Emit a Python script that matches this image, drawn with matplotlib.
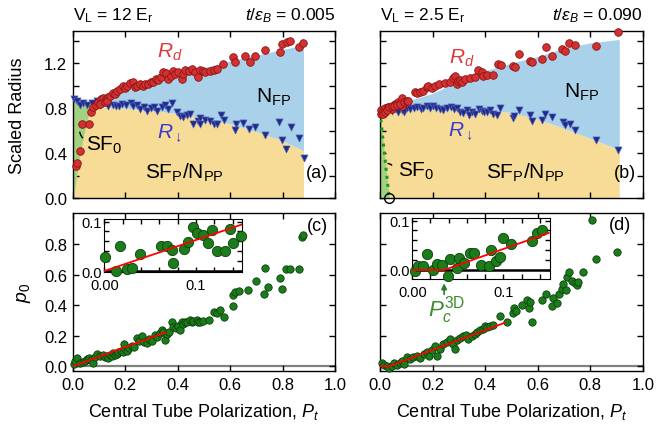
import numpy as np
import matplotlib
matplotlib.use("Agg")
import matplotlib.pyplot as plt

plt.rcParams['font.family'] = ['Liberation Sans', 'DejaVu Sans']
plt.rcParams['mathtext.fontset'] = 'custom'
plt.rcParams['mathtext.rm'] = 'Liberation Sans'
plt.rcParams['mathtext.it'] = 'Liberation Sans:italic'
plt.rcParams['mathtext.bf'] = 'Liberation Sans:bold'

# ---------------- data: panel (a) ----------------
a_rd_P = [0.013, 0.018, 0.027, 0.035, 0.061, 0.069, 0.079, 0.089, 0.098, 0.107, 0.117, 0.127, 0.136,
          0.104, 0.123, 0.132, 0.142, 0.153, 0.161, 0.170, 0.181, 0.191, 0.200, 0.208, 0.219, 0.229,
          0.238, 0.247, 0.257, 0.267, 0.276, 0.289, 0.298, 0.308, 0.318, 0.327, 0.336, 0.346, 0.355,
          0.365, 0.374, 0.382, 0.391, 0.403, 0.416, 0.420, 0.429, 0.445, 0.454, 0.467, 0.479, 0.486,
          0.496, 0.505, 0.524, 0.537, 0.550, 0.575, 0.613, 0.619, 0.658, 0.677, 0.696, 0.734, 0.791,
          0.798, 0.817, 0.828, 0.861, 0.880]
a_rd_R = [0.288, 0.308, 0.415, 0.658, 0.658, 0.762, 0.806, 0.827, 0.856, 0.880, 0.886, 0.880, 0.895,
          0.836, 0.850, 0.865, 0.909, 0.933, 0.924, 0.954, 0.969, 0.993, 0.975, 0.998, 1.022, 1.034,
          0.984, 0.993, 1.013, 0.998, 1.013, 1.013, 1.028, 1.034, 1.058, 1.052, 1.073, 1.117, 1.111,
          1.058, 1.082, 1.132, 1.102, 1.123, 1.058, 1.102, 1.141, 1.132, 1.147, 1.117, 1.073, 1.141,
          1.132, 1.123, 1.132, 1.141, 1.147, 1.191, 1.250, 1.206, 1.265, 1.206, 1.259, 1.318, 1.301,
          1.369, 1.384, 1.393, 1.340, 1.375]
a_rdn_P = [0.005, 0.015, 0.028, 0.040, 0.056, 0.072, 0.092, 0.104, 0.119, 0.136, 0.153, 0.165, 0.178,
           0.187, 0.203, 0.221, 0.231, 0.244, 0.257, 0.270, 0.282, 0.298, 0.310, 0.321, 0.340, 0.352,
           0.365, 0.378, 0.397, 0.410, 0.420, 0.435, 0.448, 0.460, 0.479, 0.487, 0.487, 0.504, 0.523,
           0.539, 0.552, 0.565, 0.577, 0.621, 0.618, 0.650, 0.672, 0.697, 0.733, 0.787, 0.799, 0.815,
           0.832, 0.863, 0.883]
a_rdn_R = [0.880, 0.865, 0.827, 0.844, 0.827, 0.844, 0.865, 0.827, 0.865, 0.815, 0.827, 0.821, 0.815,
           0.836, 0.827, 0.844, 0.815, 0.827, 0.791, 0.806, 0.776, 0.797, 0.806, 0.776, 0.806, 0.827,
           0.791, 0.844, 0.762, 0.732, 0.717, 0.738, 0.747, 0.658, 0.687, 0.714, 0.660, 0.696, 0.684,
           0.660, 0.660, 0.735, 0.690, 0.655, 0.607, 0.667, 0.616, 0.631, 0.557, 0.676, 0.513, 0.438,
           0.631, 0.536, 0.356]
# region boundaries (a)
a_low_P = [0.0, 0.1, 0.2, 0.3, 0.4, 0.5, 0.6, 0.7, 0.8, 0.88]
a_low_R = [0.81, 0.81, 0.80, 0.78, 0.75, 0.71, 0.66, 0.59, 0.51, 0.42]
a_up_P = [0.07, 0.1, 0.2, 0.3, 0.4, 0.5, 0.6, 0.7, 0.8, 0.88]
a_up_R = [0.80, 0.85, 0.96, 1.04, 1.10, 1.16, 1.22, 1.27, 1.32, 1.36]
a_sf0_R = [0.0, 0.08, 0.38, 0.67, 0.82, 0.87]
a_sf0_P = [0.005, 0.008, 0.027, 0.052, 0.071, 0.0]

# ---------------- data: panel (b) ----------------
b_rd_P = [0.003, 0.005, 0.012, 0.020, 0.030, 0.045, 0.058, 0.070, 0.085,
          0.010, 0.019, 0.028, 0.036, 0.044, 0.053, 0.063, 0.076, 0.082, 0.091, 0.101, 0.108, 0.133,
          0.142, 0.152, 0.165, 0.178, 0.184, 0.196, 0.209, 0.225, 0.247, 0.266, 0.279, 0.285, 0.292,
          0.298, 0.304, 0.311, 0.323, 0.342, 0.361, 0.374, 0.387, 0.393, 0.406, 0.428, 0.450, 0.459,
          0.507, 0.513, 0.530, 0.570, 0.577, 0.615, 0.631, 0.653, 0.691, 0.703, 0.720, 0.741, 0.821,
          0.906]
b_rd_R = [0.75, 0.78, 0.77, 0.80, 0.81, 0.79, 0.84, 0.85, 0.82,
          0.747, 0.762, 0.785, 0.806, 0.821, 0.815, 0.827, 0.836, 0.886, 0.850, 0.865, 0.865, 0.939,
          0.933, 0.945, 0.954, 0.984, 0.993, 0.975, 0.993, 1.013, 1.022, 1.028, 1.064, 1.082, 1.013,
          1.043, 1.052, 1.028, 1.058, 1.064, 1.073, 1.141, 1.117, 1.087, 1.093, 1.093, 1.191, 1.182,
          1.176, 1.161, 1.280, 1.221, 1.206, 1.236, 1.340, 1.265, 1.324, 1.309, 1.378, 1.363, 1.354,
          1.473]
b_rdn_P = [0.013, 0.028, 0.044, 0.061, 0.070, 0.082, 0.091, 0.101, 0.114, 0.129, 0.142, 0.155, 0.165,
           0.180, 0.190, 0.203, 0.213, 0.228, 0.238, 0.253, 0.269, 0.281, 0.292, 0.304, 0.317, 0.330,
           0.340, 0.349, 0.361, 0.378, 0.387, 0.395, 0.406, 0.418, 0.431, 0.444, 0.456, 0.504, 0.511,
           0.527, 0.570, 0.578, 0.616, 0.629, 0.654, 0.697, 0.705, 0.724, 0.743, 0.821, 0.906]
b_rdn_R = [0.785, 0.767, 0.776, 0.791, 0.762, 0.785, 0.767, 0.797, 0.791, 0.797, 0.806, 0.791, 0.803,
           0.815, 0.797, 0.821, 0.803, 0.791, 0.785, 0.797, 0.806, 0.791, 0.797, 0.762, 0.756, 0.785,
           0.738, 0.767, 0.747, 0.791, 0.776, 0.767, 0.762, 0.785, 0.747, 0.738, 0.797, 0.714, 0.726,
           0.779, 0.735, 0.684, 0.696, 0.744, 0.720, 0.676, 0.646, 0.655, 0.607, 0.513, 0.424]
b_low_P = [0.0, 0.1, 0.2, 0.3, 0.4, 0.5, 0.6, 0.7, 0.8, 0.91]
b_low_R = [0.75, 0.78, 0.79, 0.79, 0.78, 0.76, 0.70, 0.62, 0.53, 0.43]
b_up_P = [0.0, 0.1, 0.2, 0.3, 0.4, 0.5, 0.6, 0.7, 0.8, 0.91]
b_up_R = [0.75, 0.86, 0.93, 1.04, 1.13, 1.20, 1.26, 1.33, 1.38, 1.41]
b_sf0_P = [0.0, 0.035]
b_sf0_R = [0.77, 0.0]
b_pc3d = 0.035

# ---------------- data: panel (c) ----------------
c_P = [0.005, 0.009, 0.018, 0.028, 0.038, 0.047, 0.056, 0.063, 0.069, 0.079, 0.085, 0.094, 0.104,
       0.115, 0.123, 0.130, 0.136, 0.142, 0.149, 0.155, 0.161, 0.168, 0.174, 0.183, 0.191, 0.200,
       0.196, 0.206, 0.216, 0.225, 0.234, 0.244, 0.254, 0.263, 0.272, 0.282, 0.292, 0.302, 0.314,
       0.323, 0.331, 0.340, 0.346, 0.352, 0.359, 0.369, 0.378, 0.384, 0.394, 0.403, 0.410, 0.416,
       0.422, 0.429, 0.437, 0.448, 0.454, 0.460, 0.473, 0.479, 0.486, 0.496, 0.521, 0.537, 0.550,
       0.562, 0.577, 0.611, 0.613, 0.619, 0.636, 0.670, 0.700, 0.728, 0.732, 0.745, 0.790, 0.798,
       0.815, 0.830, 0.861, 0.874, 0.880]
c_p0 = [0.015, 0.037, 0.052, 0.022, 0.030, 0.037, 0.048, 0.052, 0.043, 0.022, 0.059, 0.080, 0.069,
        0.074, 0.059, 0.069, 0.052, 0.074, 0.065, 0.087, 0.074, 0.080, 0.092, 0.102, 0.092, 0.113,
        0.146, 0.102, 0.118, 0.135, 0.124, 0.183, 0.167, 0.196, 0.161, 0.152, 0.179, 0.167, 0.205,
        0.190, 0.218, 0.239, 0.226, 0.174, 0.211, 0.226, 0.292, 0.255, 0.248, 0.266, 0.239, 0.288,
        0.277, 0.288, 0.292, 0.305, 0.292, 0.298, 0.305, 0.292, 0.288, 0.298, 0.305, 0.353, 0.349,
        0.370, 0.320, 0.392, 0.466, 0.488, 0.494, 0.500, 0.560, 0.473, 0.641, 0.517, 0.576, 0.506,
        0.637, 0.637, 0.637, 0.844, 0.861]
c_fit_P = [0.0, 0.355]
c_fit_p0 = [0.0, 0.222]
c_in_P = [0.0008, 0.0124, 0.0171, 0.0251, 0.0305, 0.039, 0.0615, 0.068, 0.0735, 0.0753, 0.0869,
          0.0916, 0.0964, 0.1014, 0.1073, 0.1128, 0.1178, 0.1226, 0.1316, 0.1371, 0.1407, 0.1487]
c_in_p0 = [0.028, 0.0, 0.0505, 0.0034, 0.0054, 0.035, 0.0505, 0.0505, 0.042, 0.0155, 0.045,
           0.059, 0.089, 0.076, 0.0727, 0.056, 0.083, 0.040, 0.040, 0.084, 0.056, 0.0707]
c_in_fit_P = [0.0, 0.15]
c_in_fit_p0 = [0.0, 0.094]

# ---------------- data: panel (d) ----------------
d_P = [0.006, 0.015, 0.025, 0.035, 0.044, 0.053, 0.063, 0.076, 0.082, 0.091, 0.101, 0.114, 0.127,
       0.142, 0.152, 0.167, 0.178, 0.188, 0.196, 0.209, 0.216, 0.228, 0.241, 0.254, 0.266, 0.279,
       0.285, 0.294, 0.304, 0.317, 0.327, 0.336, 0.349, 0.361, 0.370, 0.380, 0.390, 0.399, 0.408,
       0.418, 0.431, 0.456, 0.482, 0.504, 0.510, 0.517, 0.539, 0.558, 0.568, 0.570, 0.577, 0.615,
       0.631, 0.653, 0.659, 0.672, 0.682, 0.691, 0.697, 0.707, 0.712, 0.720, 0.729, 0.741, 0.748,
       0.754, 0.771, 0.805, 0.821, 0.902]
d_p0 = [0.022, 0.009, 0.0, -0.013, 0.004, 0.022, 0.009, 0.022, 0.037, 0.015, 0.059, 0.048, 0.059,
        0.069, 0.052, 0.080, 0.092, 0.069, 0.109, 0.135, 0.069, 0.113, 0.146, 0.161, 0.179, 0.146,
        0.113, 0.174, 0.183, 0.196, 0.205, 0.179, 0.200, 0.211, 0.222, 0.239, 0.244, 0.262, 0.255,
        0.266, 0.270, 0.327, 0.292, 0.349, 0.379, 0.364, 0.401, 0.436, 0.379, 0.423, 0.288, 0.436,
        0.473, 0.392, 0.445, 0.414, 0.473, 0.506, 0.538, 0.501, 0.582, 0.619, 0.560, 0.545, 0.532,
        0.553, 0.619, 0.959, 0.702, 0.750]
d_fit_P = [0.0, 0.035, 0.475]
d_fit_p0 = [0.0, 0.0, 0.285]
d_in_P = [0.003, 0.006, 0.012, 0.016, 0.023, 0.027, 0.033, 0.039, 0.041, 0.049, 0.051, 0.057, 0.063,
          0.068, 0.076, 0.084, 0.087, 0.092, 0.096, 0.100, 0.108, 0.132, 0.137, 0.142]
d_in_p0 = [-0.002, 0.008, 0.008, 0.032, -0.001, 0.012, 0.010, -0.012, 0.023, 0.003, 0.024, 0.014,
           0.035, 0.035, 0.010, 0.008, 0.040, 0.018, 0.027, 0.064, 0.052, 0.058, 0.074, 0.081]
d_in_fit_P = [0.0, 0.035, 0.15]
d_in_fit_p0 = [0.0, 0.0, 0.075]

# ---------------- styling ----------------
RED_F, RED_E = '#d33131', '#8a1414'
BLUE_F, BLUE_E = '#1d2b8c', '#5564b5'
GRN_F, GRN_E = '#1c7c1c', '#0a400a'
C_BLUE, C_YEL, C_GRN = '#a9d2ea', '#f7dc98', '#a2d27f'

fig = plt.figure(figsize=(6.59, 4.31), dpi=100)
ax_a = fig.add_axes([0.1103, 0.5383, 0.398, 0.388])
ax_b = fig.add_axes([0.5766, 0.5383, 0.399, 0.388])
ax_c = fig.add_axes([0.1103, 0.1362, 0.398, 0.3673])
ax_d = fig.add_axes([0.5766, 0.1362, 0.399, 0.3673])


def style_main(ax):
    ax.tick_params(direction='in', top=True, right=True, length=4, width=1, labelsize=12, pad=4)
    for s in ax.spines.values():
        s.set_linewidth(1.0)
    ax.set_xlim(0, 1.0)
    ax.set_xticks([0, 0.2, 0.4, 0.6, 0.8, 1.0])


def top_panel(ax, rd_P, rd_R, rdn_P, rdn_R, low_P, low_R, up_P, up_R):
    style_main(ax)
    ax.set_ylim(0, 1.487)
    ax.set_yticks([0, 0.4, 0.8, 1.2])
    ax.set_yticks([0.2, 0.6, 1.0, 1.4], minor=True)
    ax.tick_params(which='minor', direction='in', right=True, length=4, width=1)
    ax.fill_between(low_P, 0, low_R, color=C_YEL, lw=0, zorder=1)
    lo_interp = np.interp(up_P, low_P, low_R)
    ax.fill_between(up_P, lo_interp, up_R, color=C_BLUE, lw=0, zorder=1)
    ax.scatter(rdn_P, rdn_R, marker='v', s=26, facecolor=BLUE_F, edgecolor=BLUE_E,
               linewidths=0.5, zorder=4, clip_on=False)
    ax.scatter(rd_P, rd_R, marker='o', s=30, facecolor=RED_F, edgecolor=RED_E,
               linewidths=0.6, zorder=5, clip_on=False)
    ax.set_xticklabels([])


# ---- (a)
top_panel(ax_a, a_rd_P, a_rd_R, a_rdn_P, a_rdn_R, a_low_P, a_low_R, a_up_P, a_up_R)
ax_a.fill_betweenx(a_sf0_R, 0, a_sf0_P, color=C_GRN, lw=0, zorder=2)
ax_a.set_ylabel('Scaled Radius', fontsize=13)
ax_a.yaxis.set_label_coords(-0.178, 0.5)
ax_a.text(0.70, 0.90, r'N$_{\mathrm{FP}}$', fontsize=15, va='center', zorder=6)
ax_a.text(0.276, 0.23, r'SF$_{\mathrm{P}}$/N$_{\mathrm{PP}}$', fontsize=15, va='center', zorder=6)
ax_a.text(0.05, 0.48, r'SF$_{0}$', fontsize=15, va='center', zorder=6)
ax_a.text(0.32, 1.30, r'$R_d$', fontsize=15, color='#e03a3a', va='center', zorder=6)
ax_a.text(0.32, 0.58, r'$R_{\downarrow}$', fontsize=15, color='#3a3ad0', va='center', zorder=6)
ax_a.annotate('', xy=(0.046, 0.52), xytext=(0.027, 0.61),
              arrowprops=dict(arrowstyle='-', lw=1, color='black', connectionstyle='arc3,rad=0.3'),
              zorder=6)
ax_a.text(0.975, 0.155, '(a)', transform=ax_a.transAxes, fontsize=13, ha='right', va='center')
ax_a.text(0.0, 1.07, r'V$_{\mathrm{L}}$ = 12 E$_{\mathrm{r}}$', transform=ax_a.transAxes,
          fontsize=12.5, va='baseline')
ax_a.text(1.0, 1.07, r'$t/\epsilon_B$ = 0.005', transform=ax_a.transAxes,
          fontsize=12.5, va='baseline', ha='right')

# ---- (b)
top_panel(ax_b, b_rd_P, b_rd_R, b_rdn_P, b_rdn_R, b_low_P, b_low_R, b_up_P, b_up_R)
ax_b.fill_betweenx([0, b_sf0_R[0]], 0, [b_sf0_P[1], 0], color=C_GRN, lw=0, zorder=2)
ax_b.plot(b_sf0_P, b_sf0_R, ls=':', color='#1a9a1a', lw=2.2, zorder=3)
ax_b.plot([b_pc3d], [0], marker='o', ms=7, mfc='none', mec='black', mew=1, clip_on=False, zorder=7)
ax_b.set_yticklabels([])
ax_b.text(0.70, 0.95, r'N$_{\mathrm{FP}}$', fontsize=15, va='center', zorder=6)
ax_b.text(0.405, 0.23, r'SF$_{\mathrm{P}}$/N$_{\mathrm{PP}}$', fontsize=15, va='center', zorder=6)
ax_b.text(0.068, 0.25, r'SF$_{0}$', fontsize=15, va='center', zorder=6)
ax_b.text(0.263, 1.25, r'$R_d$', fontsize=15, color='#e03a3a', va='center', zorder=6)
ax_b.text(0.26, 0.60, r'$R_{\downarrow}$', fontsize=15, color='#3a3ad0', va='center', zorder=6)
ax_b.annotate('', xy=(0.05, 0.27), xytext=(0.02, 0.30),
              arrowprops=dict(arrowstyle='-', lw=1, color='black', connectionstyle='arc3,rad=-0.5'),
              zorder=6)
ax_b.text(0.975, 0.155, '(b)', transform=ax_b.transAxes, fontsize=13, ha='right', va='center')
ax_b.text(0.0, 1.07, r'V$_{\mathrm{L}}$ = 2.5 E$_{\mathrm{r}}$', transform=ax_b.transAxes,
          fontsize=12.5, va='baseline')
ax_b.text(1.0, 1.07, r'$t/\epsilon_B$ = 0.090', transform=ax_b.transAxes,
          fontsize=12.5, va='baseline', ha='right')


# ---- bottom panels
def bottom_panel(ax, P, p0, fP, fp0):
    style_main(ax)
    ax.set_ylim(-0.033, 1.003)
    ax.set_yticks([0, 0.2, 0.4, 0.6, 0.8])
    ax.set_xticklabels(['0.0', '0.2', '0.4', '0.6', '0.8', '1.0'])
    ax.axhline(0, color='#808080', lw=1.6, zorder=1)
    ax.scatter(P, p0, s=28, facecolor=GRN_F, edgecolor=GRN_E, linewidths=0.6, zorder=3,
               clip_on=False)
    ax.plot(fP, fp0, color='red', lw=1.3, zorder=4)
    ax.set_xlabel(r'Central Tube Polarization, $P_t$', fontsize=13)
    ax.xaxis.set_label_coords(0.5, -0.19)


bottom_panel(ax_c, c_P, c_p0, c_fit_P, c_fit_p0)
ax_c.set_ylabel(r'$p_0$', fontsize=14)
ax_c.yaxis.set_label_coords(-0.152, 0.5)
ax_c.text(0.975, 0.92, '(c)', transform=ax_c.transAxes, fontsize=13, ha='right', va='center')

bottom_panel(ax_d, d_P, d_p0, d_fit_P, d_fit_p0)
ax_d.set_yticklabels([])
ax_d.text(0.955, 0.93, '(d)', transform=ax_d.transAxes, fontsize=13, ha='right', va='center')


# ---- insets
def inset(rect, P, p0, fP, fp0, ylo, xhi):
    ax = fig.add_axes(rect)
    ax.set_xlim(0, xhi)
    ax.set_ylim(ylo, 0.1045)
    ax.set_xticks([0, 0.1], ['0.00', '0.1'])
    ax.set_xticks([0.02, 0.04, 0.06, 0.08, 0.12, 0.14], minor=True)
    ax.set_yticks([0, 0.1], ['0.0', '0.1'])
    ax.set_yticks([0.02, 0.04, 0.06, 0.08], minor=True)
    ax.tick_params(which='both', direction='in', top=True, right=True, length=3.5, width=1,
                   labelsize=10.5, pad=2)
    ax.tick_params(axis='x', which='major', pad=4)
    ax.axhline(0, color='black', lw=1.8, zorder=1)
    ax.scatter(P, p0, s=55, facecolor=GRN_F, edgecolor=GRN_E, linewidths=0.6, zorder=3,
               clip_on=False)
    ax.plot(fP, fp0, color='red', lw=1.3, zorder=4)
    ax.set_facecolor('white')
    ax.set_zorder(10)
    return ax


in_c = inset([0.1583, 0.3666, 0.2085, 0.1223], c_in_P, c_in_p0, c_in_fit_P, c_in_fit_p0, -0.002, 0.1498)
in_d = inset([0.6256, 0.3503, 0.209, 0.1408], d_in_P, d_in_p0, d_in_fit_P, d_in_fit_p0, -0.0184, 0.1513)
in_d.annotate('', xy=(b_pc3d, -0.0215), xytext=(b_pc3d, -0.055), xycoords='data',
              arrowprops=dict(arrowstyle='-|>', color='#2a7a2a', lw=1.2, mutation_scale=8),
              annotation_clip=False)
in_d.text(0.017, -0.08, r'$P_c^{\mathrm{3D}}$', fontsize=16, color='#3a8c2a', va='center',
          ha='left', clip_on=False)

fig.savefig('out.png', dpi=100)
